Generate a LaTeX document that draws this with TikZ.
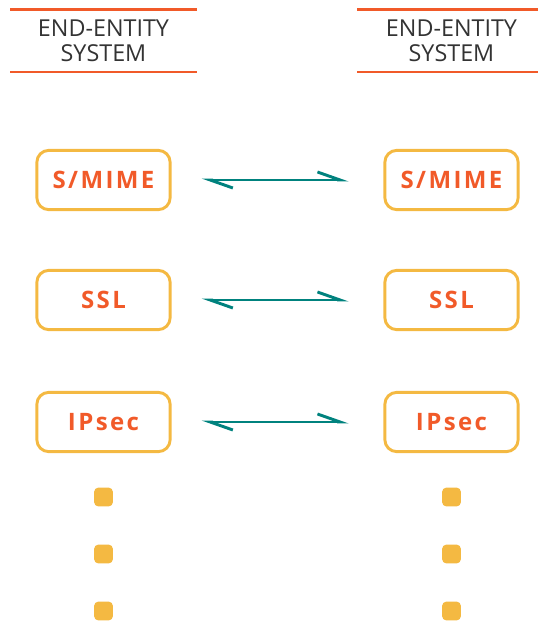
\documentclass[tikz,border=0pt]{standalone}
\usepackage{fontspec}
\setmainfont{Open Sans}
\newfontfamily\protofont{Open Sans}[LetterSpace=10]
\usepackage{tikz}
\usetikzlibrary{
    positioning,
    calc,
    arrows.meta}

\definecolor{hdrorange}{HTML}{F15A29}
\definecolor{boxyellow}{HTML}{F4B942}
\definecolor{linkteal}{HTML}{00827E}
\definecolor{hdrgray}{HTML}{333333}

\tikzset{
    hdr/.style={align=center, text=hdrgray, font=\fontsize{17.5}{18.5}\selectfont, inner sep=0pt},
    hdrline/.style={draw=hdrorange, line width=1.6pt},
    proto/.style={draw=boxyellow, line width=2.2pt, rounded corners=9pt, minimum width=100pt, minimum height=44.5pt, text=hdrorange, font=\protofont\bfseries\fontsize{18}{20}\selectfont},
    dot/.style={fill=boxyellow, rounded corners=3pt, minimum size=14pt, inner sep=0pt},
    link/.style={draw=linkteal, line width=2.2pt, {Straight Barb[harpoon, length=17pt, width=12pt, line width=2.2pt]}-{Straight Barb[harpoon, length=17pt, width=12pt, line width=2.2pt]}, shorten <=22.5pt, shorten >=26pt}
}

\begin{document}
\begin{tikzpicture}[x=0.75pt, y=-0.75pt]
\useasboundingbox (0,0) rectangle (538,622);

% headers
\node[hdr] (lhead) at (103.5,41) {END-ENTITY\\SYSTEM};
\node[hdr] (rhead) at (451.5,41) {END-ENTITY\\SYSTEM};

\draw[hdrline] (10,9.5) -- (197,9.5);
\draw[hdrline] (10,72) -- (197,72);
\draw[hdrline] (357,9.5) -- (538,9.5);
\draw[hdrline] (357,72) -- (538,72);

% protocols
\foreach \lbl/\yy/\nm in {{S/MIME}/180/smime, SSL/300/ssl, IPsec/422/ipsec}
{
    \node[proto] (l\nm) at (103.5,\yy) {\lbl};
    \node[proto] (r\nm) at (451.5,\yy) {\lbl};
    \draw[link] (l\nm) -- (r\nm);
}

% more to come
\foreach \yy/\nm in {497/a, 554/b, 611/c}
{
    \node[dot] (ldot\nm) at (103.5,\yy) {};
    \node[dot] (rdot\nm) at (451.5,\yy) {};
}

\end{tikzpicture}
\end{document}
